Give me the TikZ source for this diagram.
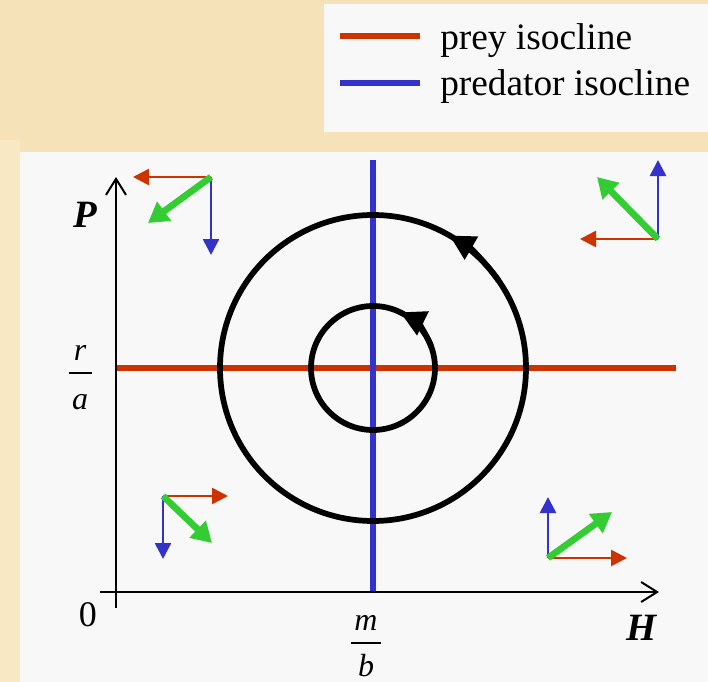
\documentclass[tikz,border=0pt]{standalone}
\usepackage{fontspec}
\setmainfont{Liberation Serif}
\usetikzlibrary{arrows.meta}
\definecolor{parch}{RGB}{246,226,184}
\definecolor{parchlight}{RGB}{250,236,205}
\definecolor{panel}{RGB}{248,248,248}
\definecolor{isored}{RGB}{204,51,0}
\definecolor{isoblue}{RGB}{51,51,204}
\definecolor{vgreen}{RGB}{51,204,51}
\begin{document}
\begin{tikzpicture}[x=0.75pt,y=0.75pt,
  legtext/.style={inner sep=0pt,anchor=base west,font=\fontsize{28}{32}\selectfont},
  axlabel/.style={inner sep=0pt,anchor=base,font=\fontsize{29}{33}\selectfont\bfseries\itshape},
  fraclabel/.style={inner sep=0pt,anchor=base,font=\fontsize{24}{28}\selectfont\itshape},
  numlabel/.style={inner sep=0pt,anchor=base,font=\fontsize{27}{31}\selectfont},
  fracbar/.style={line width=1.3pt},
  axis/.style={line width=1.5pt,-{Straight Barb[length=12pt,width=15pt,line width=1.5pt]}},
  isoR/.style={isored,line width=4.5pt},
  isoB/.style={isoblue,line width=4.5pt},
  orbit/.style={line width=4.3pt},
  orbitarrow/.style={line width=4.3pt,-{Triangle[length=19pt,width=19pt]}},
  vred/.style={isored,line width=2pt,-{Triangle[length=12pt,width=12pt]}},
  vblue/.style={isoblue,line width=2pt,-{Triangle[length=12pt,width=12pt]}},
  vgr/.style={vgreen,line width=5pt,-{Triangle[length=15pt,width=17pt]}}
]
\useasboundingbox (0,0) rectangle (708,-682);
% background
\fill[parch] (0,0) rectangle (708,-682);
\fill[parchlight,opacity=0.6] (0,-140) rectangle (20,-682);
\fill[panel] (324,-4) rectangle (708,-132);
\fill[panel] (20,-152) rectangle (708,-682);

% legend
\coordinate (lr1) at (340,-36); \coordinate (lr2) at (420,-36);
\coordinate (lb1) at (340,-83); \coordinate (lb2) at (420,-83);
\draw[isoR] (lr1) -- (lr2);
\draw[isoB] (lb1) -- (lb2);
\node[legtext] (lt1) at (440,-49) {prey isocline};
\node[legtext] (lt2) at (440,-95) {predator isocline};

% isoclines
\coordinate (rl) at (116,-368); \coordinate (rr) at (676,-368);
\coordinate (bt) at (373,-160); \coordinate (bb) at (373,-592);
\draw[isoR] (rl) -- (rr);
\draw[isoB] (bt) -- (bb);

% axes
\coordinate (yb) at (116,-608); \coordinate (yt) at (116,-177);
\coordinate (xl) at (100,-592); \coordinate (xr) at (659,-592);
\draw[axis] (yb) -- (yt);
\draw[axis] (xl) -- (xr);

% orbits
\coordinate (c) at (373,-368);
\draw[orbit] (c) circle (153);
\draw[orbit] (c) circle (62);
\draw[orbitarrow] ([shift={(35:153)}]c) arc[start angle=35,end angle=60,radius=153];
\draw[orbitarrow] ([shift={(20:62)}]c) arc[start angle=20,end angle=64,radius=62];

% labels
\node[axlabel] (P) at (85,-227) {P};
\node[axlabel] (H) at (642,-640) {H};
\node[numlabel] (zero) at (88,-626) {0};
\node[fraclabel] (r) at (80,-360) {r};
\node[fraclabel] (a) at (80,-409) {a};
\coordinate (ra1) at (69,-373); \coordinate (ra2) at (92,-373);
\draw[fracbar] (ra1) -- (ra2);
\node[fraclabel] (m) at (366,-630) {m};
\node[fraclabel] (b) at (366,-676) {b};
\coordinate (mb1) at (351,-643); \coordinate (mb2) at (381,-643);
\draw[fracbar] (mb1) -- (mb2);

% vector sets
% top-left
\coordinate (o1) at (211,-177);
\coordinate (o1r) at (133,-177); \coordinate (o1b) at (211,-255); \coordinate (o1g) at (148,-223);
\draw[vred] (o1) -- (o1r);
\draw[vblue] (o1) -- (o1b);
\draw[vgr] (o1) -- (o1g);
% top-right
\coordinate (o2) at (658,-239);
\coordinate (o2r) at (580,-239); \coordinate (o2b) at (658,-160); \coordinate (o2g) at (597,-177);
\draw[vred] (o2) -- (o2r);
\draw[vblue] (o2) -- (o2b);
\draw[vgr] (o2) -- (o2g);
% bottom-left
\coordinate (o3) at (163,-496);
\coordinate (o3r) at (228,-496); \coordinate (o3b) at (163,-559); \coordinate (o3g) at (212,-543);
\draw[vred] (o3) -- (o3r);
\draw[vblue] (o3) -- (o3b);
\draw[vgr] (o3) -- (o3g);
% bottom-right
\coordinate (o4) at (548,-558);
\coordinate (o4r) at (627,-558); \coordinate (o4b) at (548,-497); \coordinate (o4g) at (612,-512);
\draw[vred] (o4) -- (o4r);
\draw[vblue] (o4) -- (o4b);
\draw[vgr] (o4) -- (o4g);
\end{tikzpicture}
\end{document}
